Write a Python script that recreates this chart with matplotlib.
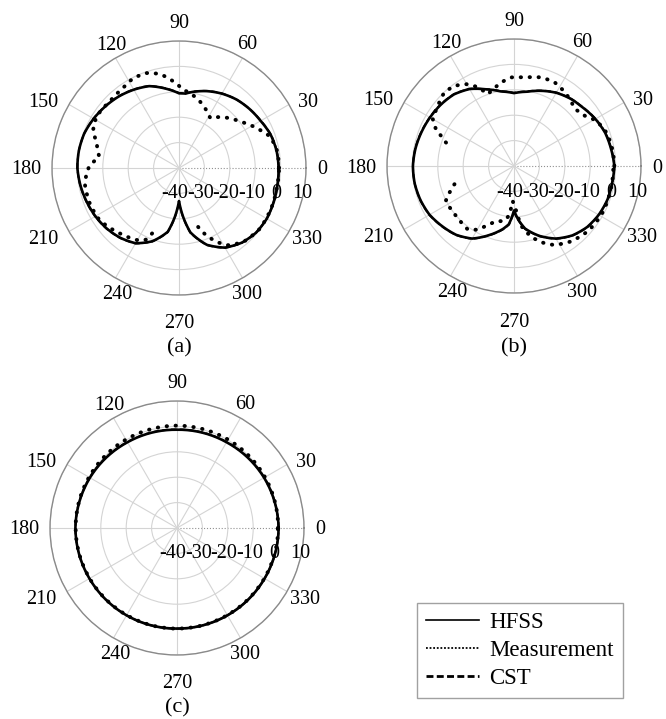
import numpy as np
import matplotlib
matplotlib.use("Agg")
import matplotlib.pyplot as plt
from matplotlib.lines import Line2D

plt.rcParams['font.family'] = ['Liberation Serif', 'DejaVu Serif']

# ---------------- data (angles in degrees, gains in dB) ----------------
# Panel (a)
a_hfss_ang = [0, 10, 20, 30, 40, 50, 60, 70, 80, 85, 90, 100, 110, 120, 130, 140, 150, 160, 170,
              180, 190, 200, 210, 220, 230, 240, 250, 260, 265, 270, 275, 280, 290, 300, 310,
              320, 330, 340, 350, 360]
a_hfss_db = [-0.8, -1.0, -1.6, -2.9, -3.8, -4.8, -6.2, -7.8, -9.6, -10.6, -10.6, -8.2, -5.7, -4.4,
             -3.2, -2.2, -1.2, -0.3, 0.0, 0.0, -0.6, -1.3, -2.0, -2.9, -4.1, -5.8, -9.3, -14.5,
             -20.5, -27.0, -20.5, -14.3, -7.8, -3.8, -1.6, -0.4, -0.1, -0.4, -0.7, -0.8]
a_cst_ang = a_hfss_ang
a_cst_db = [-0.7, -0.9, -1.5, -2.8, -3.8, -4.8, -6.1, -7.7, -9.5, -10.5, -10.5, -8.1, -5.6, -4.3,
            -3.1, -2.1, -1.1, -0.3, 0.0, 0.0, -0.5, -1.2, -1.9, -2.8, -4.0, -5.7, -9.2, -14.3,
            -20.3, -26.5, -20.3, -14.1, -7.7, -3.7, -1.5, -0.4, -0.1, -0.4, -0.6, -0.7]
a_meas_ang = [0, 10, 19, 25, 37, 50, 58, 66.5, 74, 81.6, 86.8, 93.8, 101.5, 108.9, 117, 125, 136,
              148, 156, 163, 172, 179, 189, 201.7, 213.4, 228, 241.8, 245.6, 248.8, 268,
              288, 292, 297, 301.8, 311, 323, 337, 349, 360]
a_meas_db = [-0.6, -0.8, -2.0, -4.7, -9.7, -13.8, -16.8, -14.3, -12.1, -10.2, -9.2, -5.8, -2.2,
             -0.5, -0.3, -1.6, -2.2, -1.7, -3.0, -6.1, -8.3, -4.6, -2.4, -2.2, -2.6, -5.3, -7.5,
             -9.1, -13.8, np.nan, -15.6, -11.4, -7.4, -4.2, -1.4, -0.2, -0.4, -0.7, -0.6]

# Panel (b)
b_hfss_ang = [0, 10, 20, 30, 40, 50, 60, 70, 80, 90, 100, 110, 120, 130, 140, 150, 160, 170, 180,
              190, 200, 210, 220, 230, 240, 250, 260, 265, 270, 275, 280, 290, 300, 310, 320, 330,
              340, 350, 360]
b_hfss_db = [-0.5, -1.2, -1.8, -3.0, -4.4, -5.4, -6.7, -8.5, -10.3, -11.3, -10.2, -7.9, -5.0,
             -3.2, -2.4, -1.8, -1.2, -0.6, -0.2, -0.3, -0.8, -1.6, -3.1, -4.6, -7.0, -11.0,
             -14.8, -17.0, -22.5, -18.5, -15.0, -10.7, -7.0, -4.3, -2.5, -1.5, -0.9, -0.8, -0.5]
b_cst_ang = b_hfss_ang
b_cst_db = [-0.5, -1.1, -1.7, -2.9, -4.3, -5.3, -6.6, -8.4, -10.2, -11.2, -10.1, -7.8, -4.9,
            -3.1, -2.3, -1.7, -1.1, -0.5, -0.2, -0.3, -0.7, -1.5, -3.0, -4.5, -6.9, -10.9,
            -14.6, -16.8, -22.0, -18.3, -14.8, -10.6, -6.9, -4.2, -2.4, -1.4, -0.8, -0.7, -0.5]
b_meas_ang = [0, 11.6, 19.9, 28.7, 35.3, 43, 55, 64, 72.8, 83, 91.7, 98.6, 105, 110, 114.7, 119.4,
              126.6, 133.4, 141.7, 150, 154.7, 157.6, 161, 180, 197, 202.5, 207, 214.7, 222.7,
              234, 240.4, 246, 252, 259.6, 265, 266, 268, 273, 277, 283.8, 289.8, 297, 307,
              318.7, 331, 344.4, 358, 360]
b_meas_db = [-0.5, -0.8, -1.3, -3.0, -5.8, -7.2, -4.8, -3.4, -3.5, -4.9, -5.1, -6.7, -8.7, -9.9,
             -5.9, -3.0, -0.7, -0.1, -1.8, -3.1, -6.0, -9.0, -11.7, np.nan, -15.5, -12.5, -9.9,
             -9.9, -9.9, -9.1, -11.2, -14.7, -17.2, -18.0, -20.8, -23.5, -26.2, -22.2, -16.2,
             -11.3, -8.1, -5.1, -2.8, -1.2, -0.6, -0.8, -0.9, -0.5]

# Panel (c)
c_hfss_ang = [0, 30, 60, 90, 120, 150, 180, 210, 240, 270, 300, 330, 360]
c_hfss_db = [0.0, -0.4, -1.0, -1.3, -1.0, -0.4, 0.0, -0.2, -0.3, -0.4, -0.3, -0.2, 0.0]
c_cst_ang = c_hfss_ang
c_cst_db = [0.0, -0.3, -0.9, -1.2, -0.9, -0.3, 0.0, -0.2, -0.3, -0.4, -0.3, -0.2, 0.0]
c_meas_ang = [0, 30, 60, 90, 120, 150, 180, 210, 240, 270, 300, 330, 360]
c_meas_db = [-0.2, 0.0, 0.2, 0.3, 0.2, 0.0, -0.1, -0.3, -0.4, -0.4, -0.4, -0.3, -0.2]

r_ticks = [-40, -30, -20, -10, 0, 10]
theta_ticks = [0, 30, 60, 90, 120, 150, 180, 210, 240, 270, 300, 330]
series_names = ['HFSS', 'Measurement', 'CST']
captions = ['(a)', '(b)', '(c)']

# ---------------- layout ----------------
W, H = 666, 719
fig = plt.figure(figsize=(W / 100, H / 100), dpi=100)

R = 127  # pixel radius of polar axes
centers = [(179, 168), (514, 166), (177, 528)]
caption_y = [348, 348, 708]
# pixel offsets of each angle label from the outer circle (layout only)
theta_label_offsets = {0: (16, 0), 30: (19, 4), 60: (5, 16), 90: (0, 20), 120: (-4, 15),
                       150: (-26, 4), 180: (-26, 0), 210: (-26, -6), 240: (2, -15),
                       270: (0, -27), 300: (4, -15), 330: (18, -6)}

panels = [
    (a_hfss_ang, a_hfss_db, a_meas_ang, a_meas_db, a_cst_ang, a_cst_db),
    (b_hfss_ang, b_hfss_db, b_meas_ang, b_meas_db, b_cst_ang, b_cst_db),
    (c_hfss_ang, c_hfss_db, c_meas_ang, c_meas_db, c_cst_ang, c_cst_db),
]

GRID = '#d4d4d4'
SPINE = '#8a8a8a'
FS = 14.5


def smooth(line, steps=40):
    # let the polar transform draw each segment as a curve in (theta, r)
    line.get_path()._interpolation_steps = steps
    return line


for (cx, cy), cap, capy, (ha_, hd, ma, md, ca, cd) in zip(centers, captions, caption_y, panels):
    rect = [(cx - R) / W, 1 - (cy + R) / H, 2 * R / W, 2 * R / H]
    ax = fig.add_axes(rect, projection='polar')
    ax.set_ylim(r_ticks[0], r_ticks[-1])
    ax.set_yticks(r_ticks[1:])
    ax.set_yticklabels([])
    ax.set_xticks(np.deg2rad(theta_ticks))
    ax.set_xticklabels([])
    ax.tick_params(axis='x', direction='out', length=3, color=SPINE)
    ax.grid(True, color=GRID, lw=0.8, linestyle='-')
    gl = ax.xaxis.get_gridlines()
    gl[0].set_linestyle(':')
    gl[0].set_color('#909090')
    ax.spines['polar'].set_color(SPINE)
    ax.spines['polar'].set_linewidth(1.0)

    smooth(ax.plot(np.deg2rad(ha_), hd, color='black', lw=1.9, zorder=3)[0])
    smooth(ax.plot(np.deg2rad(ca), cd, color='black', lw=1.4, linestyle=(0, (3, 1.5)),
                   zorder=3)[0])
    smooth(ax.plot(np.deg2rad(ma), md, color='black', lw=2.8, linestyle=(0, (0.1, 2.2)),
                   dash_capstyle='round', zorder=4)[0])

    for t in theta_ticks:
        dx, dy = theta_label_offsets[t]
        ax.annotate(str(t), xy=(np.deg2rad(t), r_ticks[-1]), xytext=(dx, dy - 2),
                    textcoords='offset pixels', ha='center', va='center', fontsize=FS,
                    annotation_clip=False)

    for rv in r_ticks:
        ax.annotate(str(rv), xy=(0, rv), xytext=(-4, -26), textcoords='offset pixels',
                    ha='center', va='center', fontsize=FS, annotation_clip=False)

    fig.text(cx / W, 1 - capy / H, cap, ha='center', va='center', fontsize=16)

handles = [
    Line2D([], [], color='black', lw=1.2, linestyle='-'),
    Line2D([], [], color='black', lw=1.3, linestyle=(0, (1, 1))),
    Line2D([], [], color='black', lw=2.0, linestyle=(0, (2.5, 1.2))),
]
leg = fig.legend(handles, series_names, loc='upper left',
                 bbox_to_anchor=(417 / W, 1 - 603 / H), fontsize=16.5, frameon=True,
                 fancybox=False, edgecolor=SPINE, handlelength=2.3, handletextpad=0.45,
                 borderpad=0.4, labelspacing=0.3, borderaxespad=0)
leg.get_frame().set_linewidth(1.0)

fig.savefig('out.png', dpi=100)
